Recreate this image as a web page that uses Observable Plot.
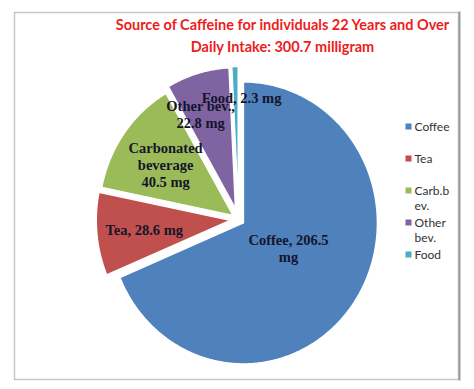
<!DOCTYPE html>
<html><head><meta charset="utf-8">
<script src="https://cdn.jsdelivr.net/npm/d3@7"></script>
<script src="https://cdn.jsdelivr.net/npm/@observablehq/plot@0.6"></script>
<style>body{margin:0;background:#fff}</style>
</head><body><div id="chart"></div>
<script>
const categories = ["Coffee", "Tea", "Carb.b ev.", "Other bev.", "Food"];
const values = [206.5, 28.6, 40.5, 22.8, 2.3];
const legendLabels = ["Coffee", "Tea", "Carb.b\nev.", "Other\nbev.", "Food"];
const labelPrefix = ["Coffee, ", "Tea, ", "Carbonated\nbeverage\n", "Other bev.,\n", "Food, "];
const labelSuffix = ["\nmg", " mg", " mg", " mg", " mg"];
const colors = ["#4f81bd", "#c0504d", "#9bbb59", "#8064a2", "#4bacc6"];
const titleLines = ["Source of Caffeine for individuals 22 Years and Over", "Daily Intake: 300.7 milligram"];

// layout (pixels / fractions of radius / degrees)
const W = 474, H = 389;
const frameBox = {left: 14, top: 12, right: 458, bottom: 379};
const cx = 238, cy = 219, rx = 134, ry = 141;
const explode = [0.044, 0.062, 0.05, 0.08, 0.085];
const labelR = [0.38, 0.645, 0.62, 0.72, 0.78];
const labelShift = [-6, 0, 0, -4.8, 3.2];
const legendTop = 126, legendStep = 32, legendX = 408, legendTextX = 414;

const rad = Math.PI / 180;
const arcs = d3.pie().sort(null).value(d => d)(values);
const slicePts = [], labels = [];
arcs.forEach((a, i) => {
  const key = categories[i];
  const mid = (a.startAngle + a.endAngle) / 2;
  const ox = explode[i] * Math.sin(mid), oy = explode[i] * Math.cos(mid);
  slicePts.push({key, x: ox, y: oy});
  const n = Math.max(2, Math.ceil((a.endAngle - a.startAngle) / 0.01));
  for (let k = 0; k <= n; k++) {
    const t = a.startAngle + (a.endAngle - a.startAngle) * k / n;
    slicePts.push({key, x: ox + Math.sin(t), y: oy + Math.cos(t)});
  }
  slicePts.push({key, x: ox, y: oy});
  const la = mid + labelShift[i] * rad;
  labels.push({x: ox + labelR[i] * Math.sin(la), y: oy + labelR[i] * Math.cos(la),
               text: labelPrefix[i] + values[i] + labelSuffix[i]});
});
const legend = categories.map((key, i) => ({
  key, label: legendLabels[i],
  x: (legendX - cx) / rx, tx: (legendTextX - cx) / rx,
  y: (cy - (legendTop + legendStep * i)) / ry
}));

const chart = Plot.plot({
  width: W, height: H,
  marginLeft: frameBox.left, marginTop: frameBox.top,
  marginRight: W - frameBox.right, marginBottom: H - frameBox.bottom,
  x: {domain: [(frameBox.left - cx) / rx, (frameBox.right - cx) / rx], axis: null},
  y: {domain: [(cy - frameBox.bottom) / ry, (cy - frameBox.top) / ry], axis: null},
  color: {domain: categories, range: colors},
  style: {background: "white"},
  marks: [
    Plot.frame({stroke: "#c6c6c6", strokeWidth: 1.5}),
    Plot.frame({anchor: "right", stroke: "#9a9a9a", strokeWidth: 2, dx: 1}),
    Plot.line(slicePts, {x: "x", y: "y", z: "key", fill: "key", stroke: "white", strokeWidth: 1.5, curve: "linear"}),
    Plot.text(labels, {x: "x", y: "y", text: "text", fill: "#15152a", fontFamily: "Liberation Serif",
      fontWeight: "bold", fontSize: 14.5, lineHeight: 1.2}),
    Plot.text([titleLines[0]], {text: d => d, frameAnchor: "top", dx: 46, dy: 13, lineAnchor: "middle",
      fill: "#ee1c1c", fontFamily: "Lato", fontWeight: "bold", fontSize: 14.5}),
    Plot.text([titleLines[1]], {text: d => d, frameAnchor: "top", dx: 46, dy: 35, lineAnchor: "middle",
      fill: "#ee1c1c", fontFamily: "Lato", fontWeight: "bold", fontSize: 14.5}),
    Plot.dot(legend, {x: "x", y: "y", fill: "key", symbol: "square", r: 3.4, stroke: null}),
    Plot.text(legend, {x: "tx", y: "y", text: "label", textAnchor: "start", lineAnchor: "top", dy: -7,
      fill: "#333", fontFamily: "Lato", fontSize: 12, lineHeight: 1.3})
  ]
});
document.getElementById("chart").appendChild(chart);
</script>
</body></html>
